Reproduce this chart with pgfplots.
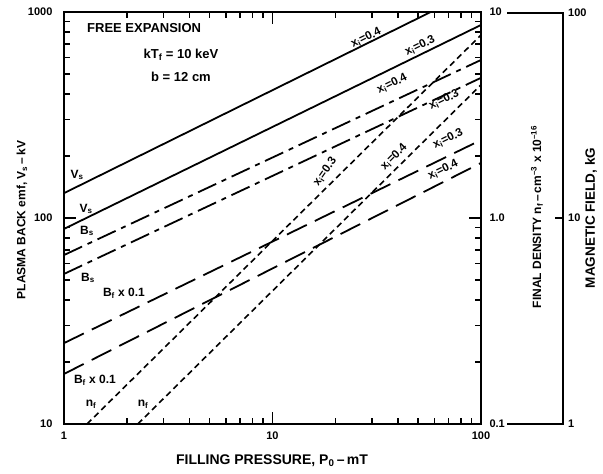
\documentclass[border=0pt]{standalone}
\usepackage{pgfplots}
\pgfplotsset{compat=1.18}
\usepackage{fontspec}
\setmainfont{Liberation Sans}
\begin{document}
\begin{tikzpicture}
\useasboundingbox (0pt,0pt) rectangle (603pt,474pt);
\begin{axis}[at={(64pt,50pt)}, anchor=south west, scale only axis,
  width=417pt, height=412pt, xmode=log, ymode=log, xmin=1, xmax=100,
  ymin=10, ymax=1000,
  xtick={1,10,100}, xticklabels={1,10,100},
  ytick={10,100,1000}, yticklabels={10,100,1000},
  minor xtick={2,3,4,5,6,7,8,9,20,30,40,50,60,70,80,90},
  minor ytick={20,30,40,50,60,70,80,90,200,300,400,500,600,700,800,900},
  ticklabel style={font=\bfseries\fontsize{11}{11}\selectfont},
  xtick pos=both, ytick pos=both, xticklabel pos=lower, yticklabel pos=left,
  tick align=inside,
  tickwidth=12pt, subtickwidth=6pt,
  xtick style={draw=black, line width=1.5pt},
  ytick style={draw=black, line width=1.5pt},
  minor tick style={draw=black, line width=1.5pt},
  axis line style={line width=1.3pt},
  yticklabel style={xshift=-8pt}, xticklabel style={yshift=-4pt}]
\addplot[black, line width=1.8pt] coordinates {(1,132) (100,1320)};
\addplot[black, line width=1.8pt] coordinates {(1,88.5) (100,865)};
\addplot[black, line width=1.8pt, dash pattern=on 20pt off 6pt on 5pt off 6pt] coordinates {(1,66.1) (100,585)};
\addplot[black, line width=1.8pt, dash pattern=on 20pt off 6pt on 5pt off 6pt] coordinates {(1,53.5) (100,479)};
\addplot[black, line width=1.8pt, dash pattern=on 22pt off 9pt] coordinates {(1,24.7) (100,239)};
\addplot[black, line width=1.8pt, dash pattern=on 22pt off 9pt] coordinates {(1,17.5) (100,185)};
\end{axis}
\begin{axis}[at={(64pt,50pt)}, anchor=south west, scale only axis,
  width=417pt, height=412pt, xmode=log, ymode=log, xmin=1, xmax=100,
  ymin=0.1, ymax=10, axis y line*=right, axis x line=none,
  ytick={0.1,1,10}, yticklabels={0.1,1.0,10},
  ticklabel style={font=\bfseries\fontsize{11}{11}\selectfont},
  tickwidth=0pt, subtickwidth=0pt,
  yticklabel style={xshift=5pt}]
\addplot[black, line width=1.6pt, dash pattern=on 6pt off 4pt] coordinates {(1.29,0.1) (100,7.73)};
\addplot[black, line width=1.6pt, dash pattern=on 6pt off 4pt] coordinates {(2.26,0.1) (100,4.43)};
\end{axis}
% magnetic field axis bracket
\draw[line width=1.2pt] (507pt,461pt) -- (563pt,461pt) -- (563pt,50pt) -- (507pt,50pt);
\draw[line width=1.3pt] (555pt,256pt) -- (563pt,256pt);
\begin{scope}[every node/.style={font=\bfseries\fontsize{11}{11}\selectfont, inner sep=1pt}]
\node[anchor=west] at (567pt,461pt) {100};
\node[anchor=west] at (567pt,256pt) {10};
\node[anchor=west] at (567pt,50pt) {1};
\end{scope}
% axis titles
\node[font=\bfseries\fontsize{14}{14}\selectfont] at (272pt,13pt) {FILLING PRESSURE, P\textsubscript{0}\,--\,mT};
\node[rotate=90, font=\bfseries\fontsize{12}{12}\selectfont] at (22pt,254pt) {PLASMA BACK emf, V\textsubscript{s}\,--\,kV};
\node[rotate=90, font=\bfseries\fontsize{12}{12}\selectfont] at (537pt,257pt) {FINAL DENSITY n\textsubscript{f}\,--\,cm\textsuperscript{--3} x 10\textsuperscript{--16}};
\node[rotate=90, font=\bfseries\fontsize{13.5}{14}\selectfont] at (591pt,256pt) {MAGNETIC FIELD, kG};
% annotations
\begin{scope}[every node/.style={font=\bfseries\fontsize{13}{13}\selectfont, inner sep=1pt}]
\node[anchor=west] at (86pt,446pt) {FREE EXPANSION};
\node at (181pt,419pt) {kT\textsubscript{f} = 10 keV};
\node at (181pt,397pt) {b = 12 cm};
\end{scope}
\begin{scope}[every node/.style={font=\bfseries\fontsize{12}{12}\selectfont, inner sep=1pt}]
\node at (77pt,299pt) {V\textsubscript{s}};
\node at (86pt,265pt) {V\textsubscript{s}};
\node at (87pt,243pt) {B\textsubscript{s}};
\node at (88pt,196pt) {B\textsubscript{s}};
\node at (124pt,181pt) {B\textsubscript{f} x 0.1};
\node at (95pt,94pt) {B\textsubscript{f} x 0.1};
\node at (91pt,70pt) {n\textsubscript{f}};
\node at (143pt,70pt) {n\textsubscript{f}};
\end{scope}
\begin{scope}[every node/.style={font=\bfseries\fontsize{11.5}{11.5}\selectfont, inner sep=1pt}]
\node[rotate=26] at (366pt,436pt) {x\textsubscript{i}=0.4};
\node[rotate=26] at (420pt,428pt) {x\textsubscript{i}=0.3};
\node[rotate=26] at (392pt,390pt) {x\textsubscript{i}=0.4};
\node[rotate=26] at (444pt,374pt) {x\textsubscript{i}=0.3};
\node[rotate=26] at (448pt,335pt) {x\textsubscript{i}=0.3};
\node[rotate=26] at (443pt,304pt) {x\textsubscript{i}=0.4};
\node[rotate=55] at (325pt,302pt) {x\textsubscript{i}=0.3};
\node[rotate=45] at (394pt,317pt) {x\textsubscript{i}=0.4};
\end{scope}
\end{tikzpicture}
\end{document}
